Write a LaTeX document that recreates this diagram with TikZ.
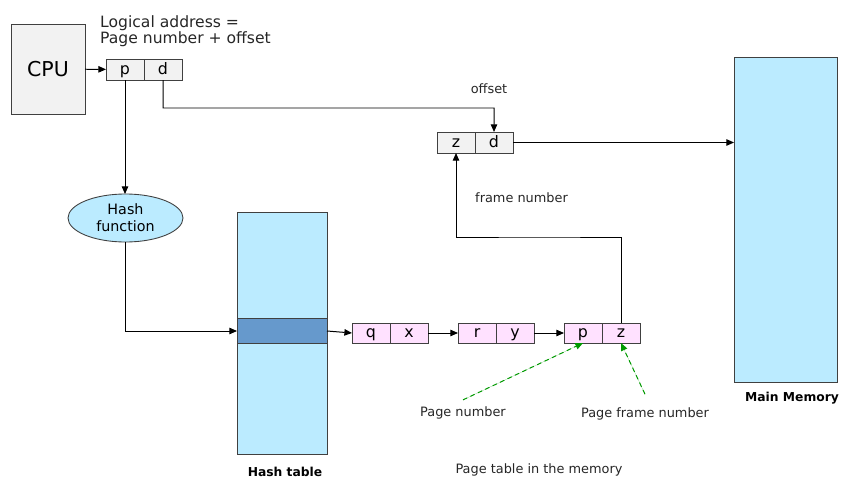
\documentclass[tikz,border=0pt]{standalone}
\usepackage{fontspec}
\setmainfont{DejaVu Sans}
\usetikzlibrary{arrows.meta, positioning, shapes.geometric}

\definecolor{memblue}{HTML}{BBEBFF}
\definecolor{rowblue}{HTML}{6699CC}
\definecolor{cellgray}{HTML}{F2F2F2}
\definecolor{cellpink}{HTML}{FFE1FF}
\definecolor{ptrgreen}{HTML}{009900}
\definecolor{txtgray}{HTML}{262626}

\begin{document}
\begin{tikzpicture}[x=0.03cm, y=-0.03cm]

\tikzset{block/.style = {draw=black!75, line width=0.75pt, inner sep=0, outer sep=0}}
\tikzset{cell/.style = {block, fill=cellgray, minimum width=1.14cm, minimum height=0.63cm,
  text height=0.85em, text depth=0pt, font=\fontsize{13.5}{15}\selectfont}}
\tikzset{entry/.style = {cell, fill=cellpink, minimum height=0.6cm}}
\tikzset{label/.style = {inner sep=0, text=txtgray, font=\fontsize{11}{13}\selectfont}}
\tikzset{caption/.style = {inner sep=0, text=black, font=\fontsize{10.5}{12}\selectfont\bfseries}}
\tikzset{link/.style = {line width=0.85pt, -{Triangle[length=6.5pt,width=5.5pt]}}}
\tikzset{pointer/.style = {link, draw=ptrgreen, fill=ptrgreen, dash pattern=on 4pt off 3pt}}

\useasboundingbox (0,0) rectangle (848,479);

% blocks
\node[block, fill=cellgray, minimum width=2.22cm, minimum height=2.7cm,
  font=\fontsize{17.5}{20}\selectfont] (cpu) at (48,69) {CPU};
\node[block, fill=memblue, minimum width=3.09cm, minimum height=9.75cm] (mem) at (785.5,219.5) {};
\node[block, fill=memblue, minimum width=2.7cm, minimum height=7.26cm] (table) at (282,333) {};
\node[block, fill=rowblue, minimum width=2.7cm, minimum height=0.75cm] (row) at (282,331) {};
\node[block, fill=memblue, ellipse, minimum width=3.45cm, minimum height=1.44cm, align=center,
  font=\fontsize{12.2}{14.5}\selectfont] (hash) at (125.5,218) {Hash\\function};

% address cells
\node[cell] (p) at (125,69.5) {p};
\node[cell, right=0pt of p] (d) {d};
\node[cell] (z) at (456,142.5) {z};
\node[cell, right=0pt of z] (d2) {d};

% chain of entries
\node[entry] (q) at (371,333) {q};
\node[entry, right=0pt of q] (x) {x};
\node[entry] (r) at (477,333) {r};
\node[entry, right=0pt of r] (y) {y};
\node[entry] (p2) at (583,333) {p};
\node[entry, right=0pt of p2] (z2) {z};

% labels
\node[label, anchor=west, align=left, font=\fontsize{13.3}{13.7}\selectfont] (logical) at (100,31)
  {Logical address =\\Page number + offset};
\node[label] (offset) at (489,89) {offset};
\node[label, anchor=west] (frame) at (475,198) {frame number};
\node[label] (pn) at (463,413) {Page number};
\node[label] (pfn) at (645,414) {Page frame number};
\node[label] (ptable) at (539,470) {Page table in the memory};
\node[caption] (memcap) at (792,398) {Main Memory};
\node[caption] (tablecap) at (285,472) {Hash table};

\coordinate (bend1) at (494,108);
\coordinate (bend2) at (540,237);

% connectors
\draw[link] (cpu) -- (p);
\draw[link] (p.south) -- (p.south |- hash.north);
\draw[link] (d.south) |- (bend1) -- (d2.north);
\draw[link] (d2.east) -- (d2.east -| mem.west);
\draw[link] (hash.south) |- (row.west);
\draw[link] (row.east) -- (q.west);
\draw[link] (x.east) -- (r.west);
\draw[link] (y.east) -- (p2.west);
\draw[link] (z2.north) |- (bend2) -| (z.south);
\draw[pointer] ([yshift=0.2cm]pn.north) -- (p2.south);
\draw[pointer] ([yshift=0.4cm]pfn.north) -- (z2.south);
\end{tikzpicture}
\end{document}
